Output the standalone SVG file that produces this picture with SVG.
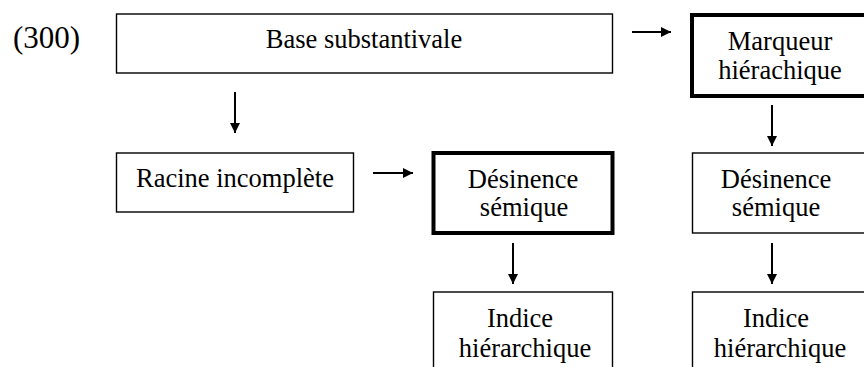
<svg xmlns="http://www.w3.org/2000/svg" width="864" height="367" viewBox="0 0 864 367">
<style>
text{font-family:"Liberation Serif","Times New Roman",serif;font-size:26.5px;fill:#000;text-anchor:middle}
.n{fill:#fff;stroke:#000;stroke-width:1.4}
.b{fill:#fff;stroke:#000;stroke-width:4}
.c{stroke:#000;stroke-width:2;fill:none;marker-end:url(#ah)}
</style>
<defs>
<marker id="ah" markerUnits="userSpaceOnUse" markerWidth="12" markerHeight="12" refX="10" refY="5" orient="auto">
<path d="M0,0 L10,5 L0,10 Z" fill="#000"/>
</marker>
</defs>
<rect width="864" height="367" fill="#fff"/>
<text x="46.5" y="48" style="font-size:31px">(300)</text>
<g id="base"><rect class="n" x="116.5" y="14" width="496" height="59"/><text x="364" y="48">Base substantivale</text></g>
<g id="marqueur"><rect class="b" x="692" y="15" width="180" height="81"/><text x="780" y="50">Marqueur</text><text x="780" y="79">hiérachique</text></g>
<g id="racine"><rect class="n" x="116.5" y="153" width="237" height="59"/><text x="235" y="187">Racine incomplète</text></g>
<g id="desinence1"><rect class="b" x="433.5" y="153" width="179" height="80"/><text x="523" y="188">Désinence</text><text x="524" y="216">sémique</text></g>
<g id="desinence2"><rect class="n" x="692.5" y="153" width="180" height="80"/><text x="776" y="188">Désinence</text><text x="776" y="216">sémique</text></g>
<g id="indice1"><rect class="n" x="433.5" y="292" width="179" height="90"/><text x="520" y="327">Indice</text><text x="525" y="357">hiérarchique</text></g>
<g id="indice2"><rect class="n" x="692.5" y="292" width="180" height="90"/><text x="776" y="327">Indice</text><text x="780" y="357">hiérarchique</text></g>
<g id="connectors">
<line class="c" x1="632" y1="32" x2="671" y2="32"/>
<line class="c" x1="235" y1="92" x2="235" y2="133"/>
<line class="c" x1="373" y1="173" x2="413" y2="173"/>
<line class="c" x1="772" y1="105" x2="772" y2="146"/>
<line class="c" x1="513" y1="243" x2="513" y2="284"/>
<line class="c" x1="772" y1="243" x2="772" y2="284"/>
</g>
</svg>
